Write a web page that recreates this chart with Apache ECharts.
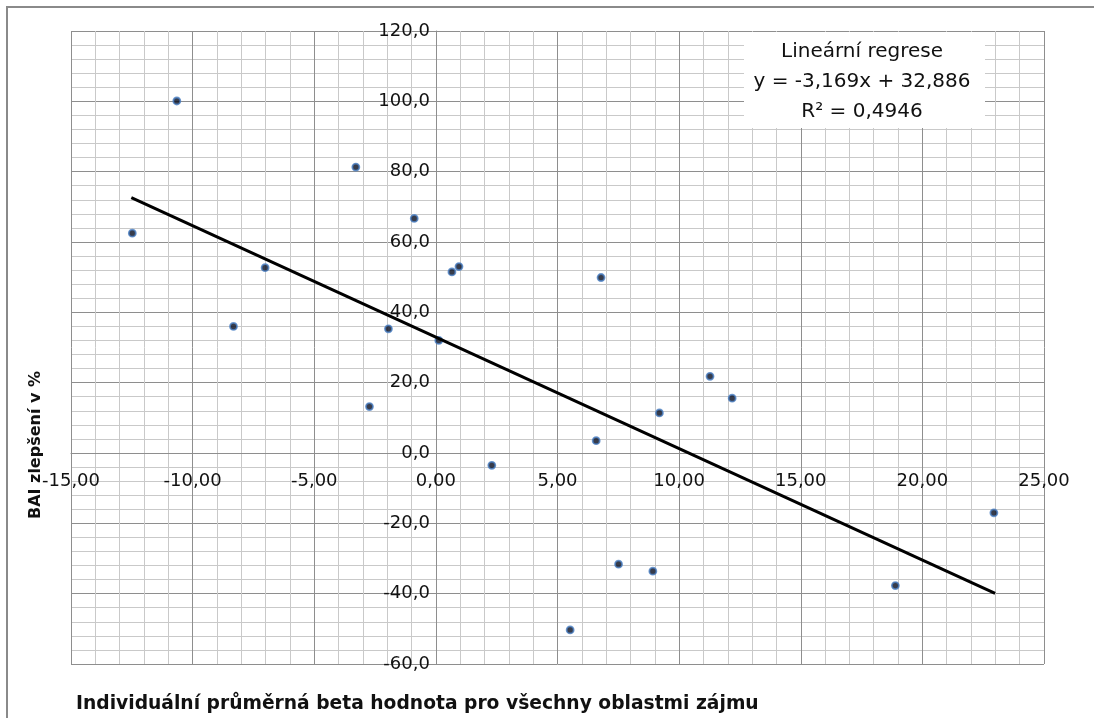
<!DOCTYPE html>
<html>
<head>
<meta charset="utf-8">
<script src="https://cdn.jsdelivr.net/npm/echarts@6/dist/echarts.min.js"></script>
<style>
html,body{margin:0;padding:0;background:#fff;}
#chart{width:1094px;height:718px;}
</style>
</head>
<body>
<div id="chart"></div>
<script>
// Individual mean beta value (x) vs BAI improvement in % (y)
const xValues = [-12.48, -10.65, -3.29, -8.32, -7.02, -1.95, -2.73, -0.89, 0.12, 0.66, 0.95, 2.30, 6.79, 6.59, 9.19, 11.27, 12.18, 5.52, 7.51, 8.92, 18.89, 22.94];
const yValues = [62.5, 100.1, 81.3, 36.0, 52.7, 35.3, 13.2, 66.7, 32.0, 51.5, 53.0, -3.5, 49.9, 3.5, 11.4, 21.8, 15.6, -50.3, -31.6, -33.6, -37.7, -17.0];
// Regression line end points as drawn
const trendX = [-12.52, 22.99];
const trendY = [72.6, -39.9];
const legendLines = ["Lineární regrese", "y = -3,169x + 32,886", "R\u00B2 = 0,4946"];
const xAxisTitle = "Individuální průměrná beta hodnota pro všechny oblastmi zájmu";
const yAxisTitle = "BAI zlepšení v %";
const xRange = {min: -15, max: 25, step: 5};
const yRange = {min: -60, max: 120, step: 20};

const FONT = "DejaVu Sans";
const fmt = (v, d) => v.toFixed(d).replace('.', ',');

const W = 1094, H = 718;
const grid = {left: 71, right: 50, top: 31, bottom: 54};
const gridW = W - grid.left - grid.right;
const gridH = H - grid.top - grid.bottom;
// place axes where the other axis is zero (axes cross at origin)
const xAxisOffset = -gridH * (0 - yRange.min) / (yRange.max - yRange.min);
const yAxisOffset = -gridW * (0 - xRange.min) / (xRange.max - xRange.min);

const chart = echarts.init(document.getElementById('chart'), null, {renderer: 'canvas'});
const majorColor = '#8e8e8e';
const minorColor = '#c9c9c9';

const option = {
  animation: false,
  backgroundColor: '#ffffff',
  grid: Object.assign({containLabel: false}, grid),
  xAxis: {
    type: 'value', min: xRange.min, max: xRange.max, interval: xRange.step,
    position: 'bottom', offset: xAxisOffset,
    axisLine: {show: true, onZero: false, lineStyle: {color: majorColor, width: 1}},
    axisTick: {show: false},
    minorTick: {show: false, splitNumber: 5},
    splitLine: {show: true, lineStyle: {color: majorColor, width: 1}},
    minorSplitLine: {show: true, lineStyle: {color: minorColor, width: 1}},
    axisLabel: {
      show: true, margin: 19, color: '#111', fontFamily: FONT, fontSize: 18,
      showMinLabel: true, showMaxLabel: true,
      formatter: v => fmt(v, 2)
    }
  },
  yAxis: {
    type: 'value', min: yRange.min, max: yRange.max, interval: yRange.step,
    position: 'left', offset: yAxisOffset,
    axisLine: {show: true, onZero: false, lineStyle: {color: majorColor, width: 1}},
    axisTick: {show: false},
    minorTick: {show: false, splitNumber: 5},
    splitLine: {show: true, lineStyle: {color: majorColor, width: 1}},
    minorSplitLine: {show: true, lineStyle: {color: minorColor, width: 1}},
    axisLabel: {
      show: true, margin: 6, color: '#111', fontFamily: FONT, fontSize: 18,
      showMinLabel: true, showMaxLabel: true,
      formatter: v => fmt(v, 1)
    }
  },
  series: [
    {
      type: 'scatter',
      data: xValues.map((x, i) => [x, yValues[i]]),
      symbol: 'circle', symbolSize: 7,
      itemStyle: {color: '#050b1e', borderColor: '#4a7fc4', borderWidth: 1.8},
      z: 3
    },
    {
      type: 'line',
      data: trendX.map((x, i) => [x, trendY[i]]),
      showSymbol: false, symbol: 'none',
      lineStyle: {color: '#000', width: 3},
      z: 4
    }
  ],
  graphic: [
    {
      type: 'rect', silent: true, z: 0,
      shape: {x: 7, y: 7, width: 1100, height: 800},
      style: {fill: 'none', stroke: '#8a8a8a', lineWidth: 2}
    },
    {
      type: 'rect', silent: true, z: 10,
      shape: {x: 744, y: 32, width: 241, height: 96},
      style: {fill: '#ffffff'}
    },
    ...legendLines.map((t, i) => ({
      type: 'text', silent: true, z: 11,
      x: 862, y: 52 + i * 30,
      style: {text: t, font: '20px "' + FONT + '"', fill: '#111', textAlign: 'center', textVerticalAlign: 'middle'}
    })),
    {
      type: 'text', silent: true, z: 11,
      x: 76, y: 704,
      style: {text: xAxisTitle, font: 'bold 18.7px "' + FONT + '"', fill: '#111', textAlign: 'left', textVerticalAlign: 'middle'}
    },
    {
      type: 'text', silent: true, z: 11,
      x: 36, y: 445, rotation: Math.PI / 2,
      style: {text: yAxisTitle, font: 'bold 16px "' + FONT + '"', fill: '#111', textAlign: 'center', textVerticalAlign: 'middle'}
    }
  ]
};
chart.setOption(option);
</script>
</body>
</html>
